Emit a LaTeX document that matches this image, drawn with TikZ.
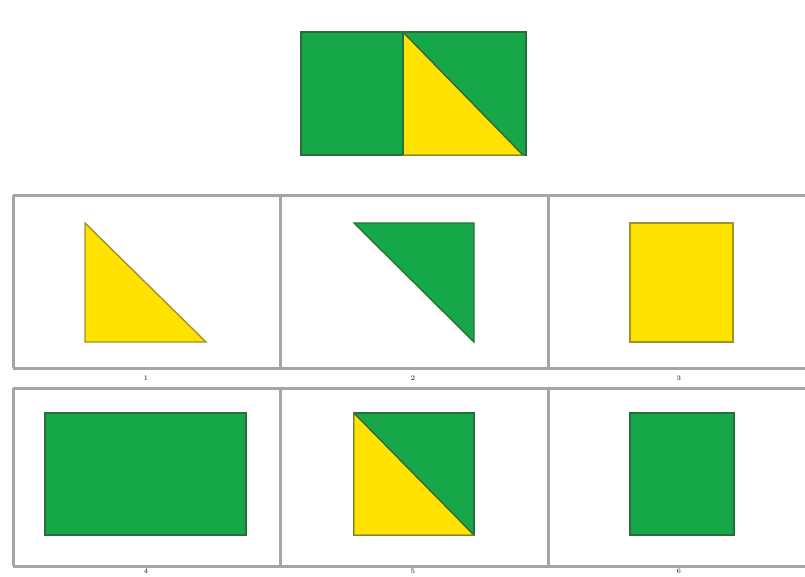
\documentclass[tikz,border=0pt]{standalone}
\usepackage{xcolor}
\usetikzlibrary{positioning}
\definecolor{figgreen}{RGB}{22, 168, 72}
\definecolor{figyellow}{RGB}{255, 226, 0}
\definecolor{greenedge}{RGB}{40, 110, 60}
\definecolor{yellowedge}{RGB}{160, 145, 40}
\definecolor{framegray}{RGB}{165, 165, 168}
\tikzset{
  greenpart/.style={fill=figgreen, draw=greenedge, line width=1.4pt, line join=miter},
  yellowpart/.style={fill=figyellow, draw=yellowedge, line width=1.4pt, line join=miter},
  frameline/.style={draw=framegray, line width=3pt},
  optlabel/.style={font=\fontsize{7}{7}\selectfont\bfseries, text=black!65, inner sep=0pt}
}
\begin{document}
\begin{tikzpicture}[x=1pt, y=-1pt]
        \useasboundingbox (0,0) rectangle (805,576);

        % Question figure
        \draw[greenpart] (301,32) rectangle (526,155);
        \draw[yellowpart] (403,32) -- (403,155) -- (523,155) -- cycle;
        \draw[greenedge, line width=1.4pt] (403,32) -- (403,155);
        \draw[greenedge, line width=1.4pt] (403,32) -- (523,155);

        % Answer frames
        \draw[frameline] (13,195) -- (805,195);
        \draw[frameline] (13,368) -- (805,368);
        \draw[frameline] (13,388) -- (805,388);
        \draw[frameline] (13,566) -- (805,566);
        \foreach \xx in {13, 280, 548} {
            \draw[frameline] (\xx,195) -- (\xx,368);
            \draw[frameline] (\xx,388) -- (\xx,566);
        }

        % Option 1
        \draw[yellowpart] (85,223) -- (85,342) -- (206,342) -- cycle;
        % Option 2
        \draw[greenpart] (354,223) -- (474,223) -- (474,342) -- cycle;
        % Option 3
        \draw[yellowpart] (630,223) rectangle (733,342);
        % Option 4
        \draw[greenpart] (45,413) rectangle (246,535);
        % Option 5
        \draw[greenpart] (354,413) rectangle (474,535);
        \draw[yellowpart] (354,413) -- (354,535) -- (474,535) -- cycle;
        \draw[greenedge, line width=1.4pt] (354,413) -- (474,535);
        % Option 6
        \draw[greenpart] (630,413) rectangle (734,535);

        % Option labels
        \node[optlabel] (lab1) at (146,378) {1};
        \node[optlabel] (lab2) at (413,378) {2};
        \node[optlabel] (lab3) at (679,378) {3};
        \node[optlabel] (lab4) at (146,571.5) {4};
        \node[optlabel] (lab5) at (413,571.5) {5};
        \node[optlabel] (lab6) at (679,571.5) {6};
    \end{tikzpicture}
\end{document}
